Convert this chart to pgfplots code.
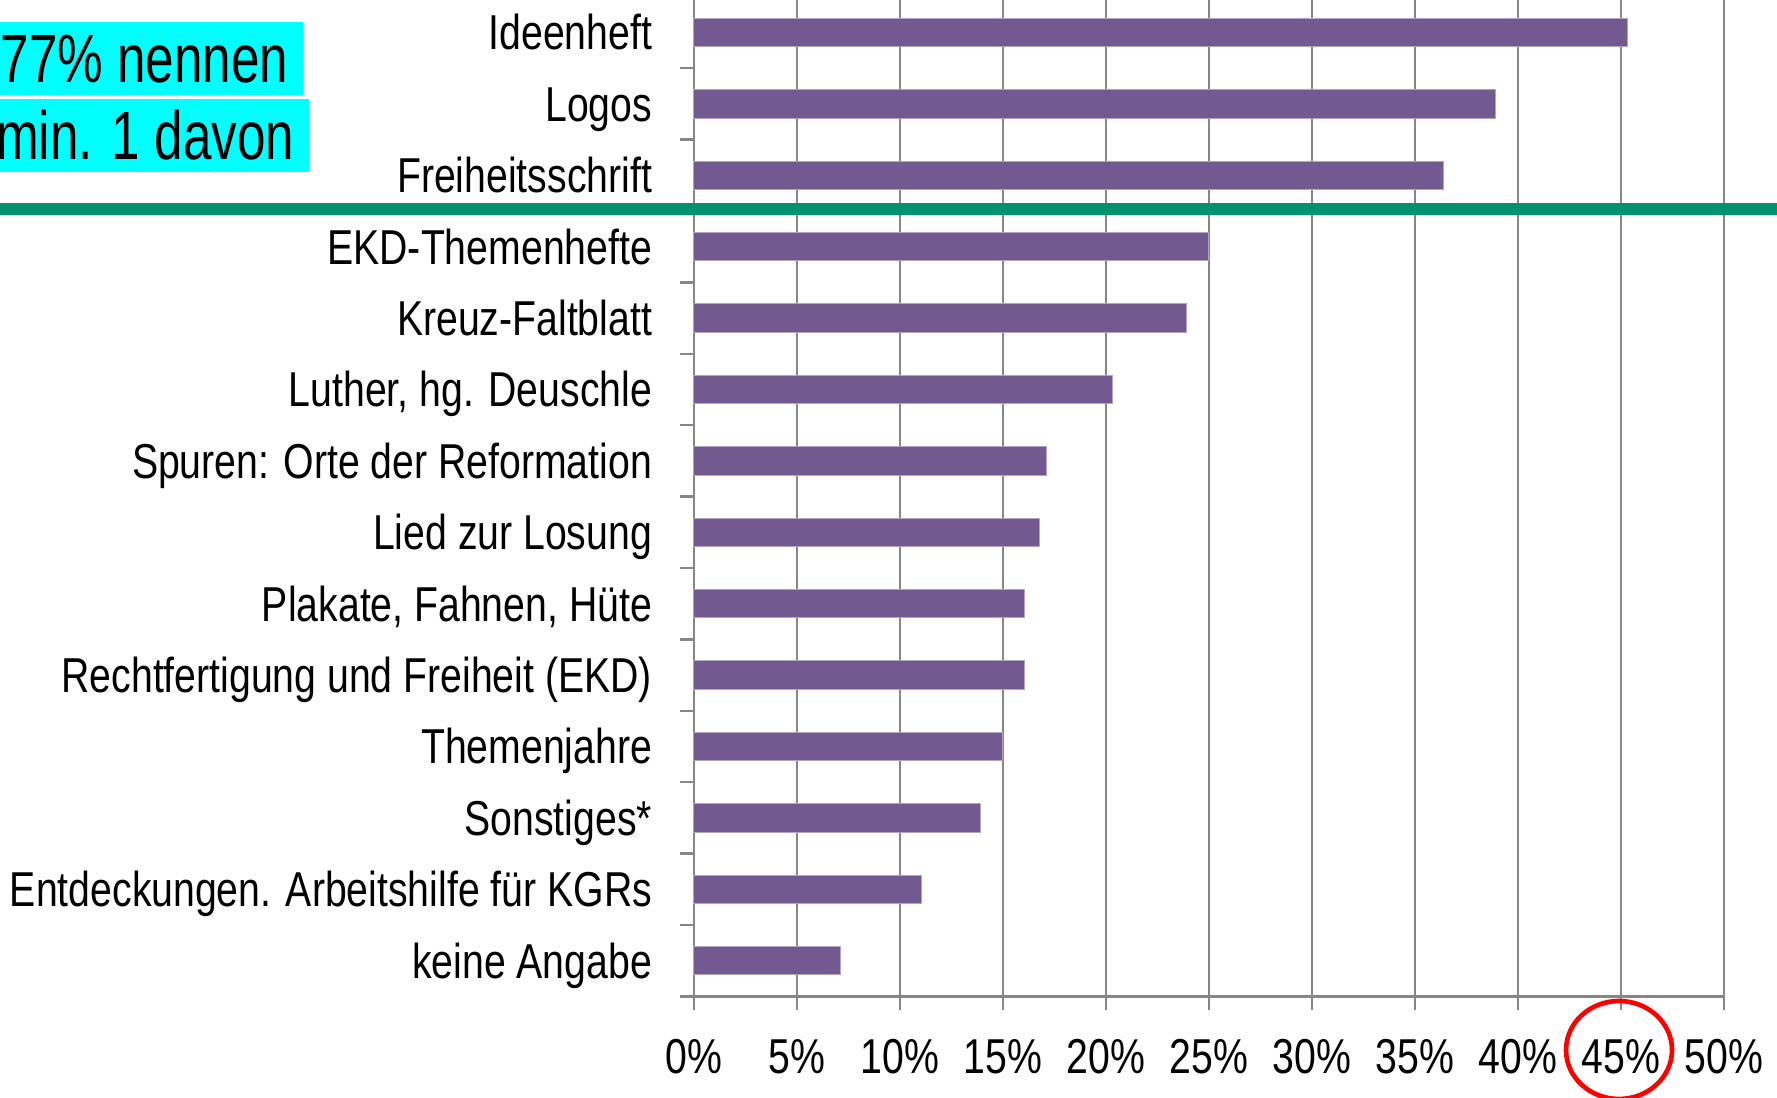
\documentclass[border=0pt]{standalone}
\usepackage{fontspec}
\setmainfont{Liberation Sans}[FakeStretch=0.8]
\newfontfamily\boxfont{Liberation Sans}[FakeStretch=0.75]
\usepackage{pgfplots}
\pgfplotsset{compat=1.18}
\definecolor{barpurple}{RGB}{114,89,143}
\definecolor{gridgray}{RGB}{134,134,134}
\definecolor{sepgreen}{RGB}{0,146,110}
\definecolor{boxcyan}{RGB}{0,255,255}
\newcommand{\px}[1]{(#1)*0.3pt}
\begin{document}
\begin{tikzpicture}
\useasboundingbox (0,0) rectangle ({\px{1777}},{\px{1098}});
\clip (0,0) rectangle ({\px{1777}},{\px{1098}});
\begin{axis}[
  at={({\px{693.7}},{\px{1098-996.4}})}, anchor=south west,
  scale only axis, width=309pt, height=299.88pt,
  xbar, bar width=8.5pt,
  xmin=0, xmax=50, ymin=-0.5, ymax=13.5, y dir=reverse,
  xtick={0,5,...,50},
  xticklabels={0\%,5\%,10\%,15\%,20\%,25\%,30\%,35\%,40\%,45\%,50\%},
  ytick={0,...,13},
  yticklabels={Ideenheft,Logos,Freiheitsschrift,EKD-Themenhefte,Kreuz-Faltblatt,{Luther, hg. Deuschle},Spuren: Orte der Reformation,Lied zur Losung,{Plakate, Fahnen, Hüte},Rechtfertigung und Freiheit (EKD),Themenjahre,Sonstiges*,Entdeckungen. Arbeitshilfe für KGRs,keine Angabe},
  minor ytick={-0.5,0.5,...,13.5},
  xmajorgrids, major grid style={gridgray, line width=0.7pt},
  axis x line*=bottom, axis y line*=left,
  axis line style={gridgray, line width=0.7pt, -},
  tick align=outside, major tick length=4.2pt, minor tick length=4.2pt,
  tick style={gridgray, line width=0.7pt},
  major y tick style={draw=none},
  tick label style={font=\fontsize{14.7}{17}\selectfont, text=black},
  yticklabel style={anchor=base east, inner sep=0pt, xshift=-8.1pt, yshift=-5.2pt},
  xticklabel style={anchor=base, inner sep=0pt, yshift=-18.8pt},
  clip=false,
]
\addplot[fill=barpurple, draw=barpurple!55!white, line width=0.3pt] coordinates {
  (45.35,0) (38.9,1) (36.4,2) (25.0,3) (23.9,4) (20.35,5) (17.15,6)
  (16.78,7) (16.07,8) (16.07,9) (15.0,10) (13.93,11) (11.07,12) (7.13,13)
};
\end{axis}
\draw[sepgreen, line width=3.6pt] (0,{\px{1098-209}}) -- ({\px{1777}},{\px{1098-209}});
\fill[boxcyan] (0,{\px{1098-95}}) rectangle ({\px{302.7}},{\px{1098-22.3}});
\fill[boxcyan] (0,{\px{1098-171.7}}) rectangle ({\px{309}},{\px{1098-99}});
\node[anchor=base east, inner sep=0pt, font=\boxfont\fontsize{20.5}{24}\selectfont] at ({\px{289}},{\px{1098-82.3}}) {77\% nennen};
\node[anchor=base east, inner sep=0pt, font=\boxfont\fontsize{20.5}{24}\selectfont] at ({\px{295}},{\px{1098-159.3}}) {min. 1 davon};
\draw[red, line width=1.4pt] ({\px{1619}},{\px{1098-1050}}) ellipse [x radius={\px{53}}, y radius={\px{49}}];
\end{tikzpicture}
\end{document}
